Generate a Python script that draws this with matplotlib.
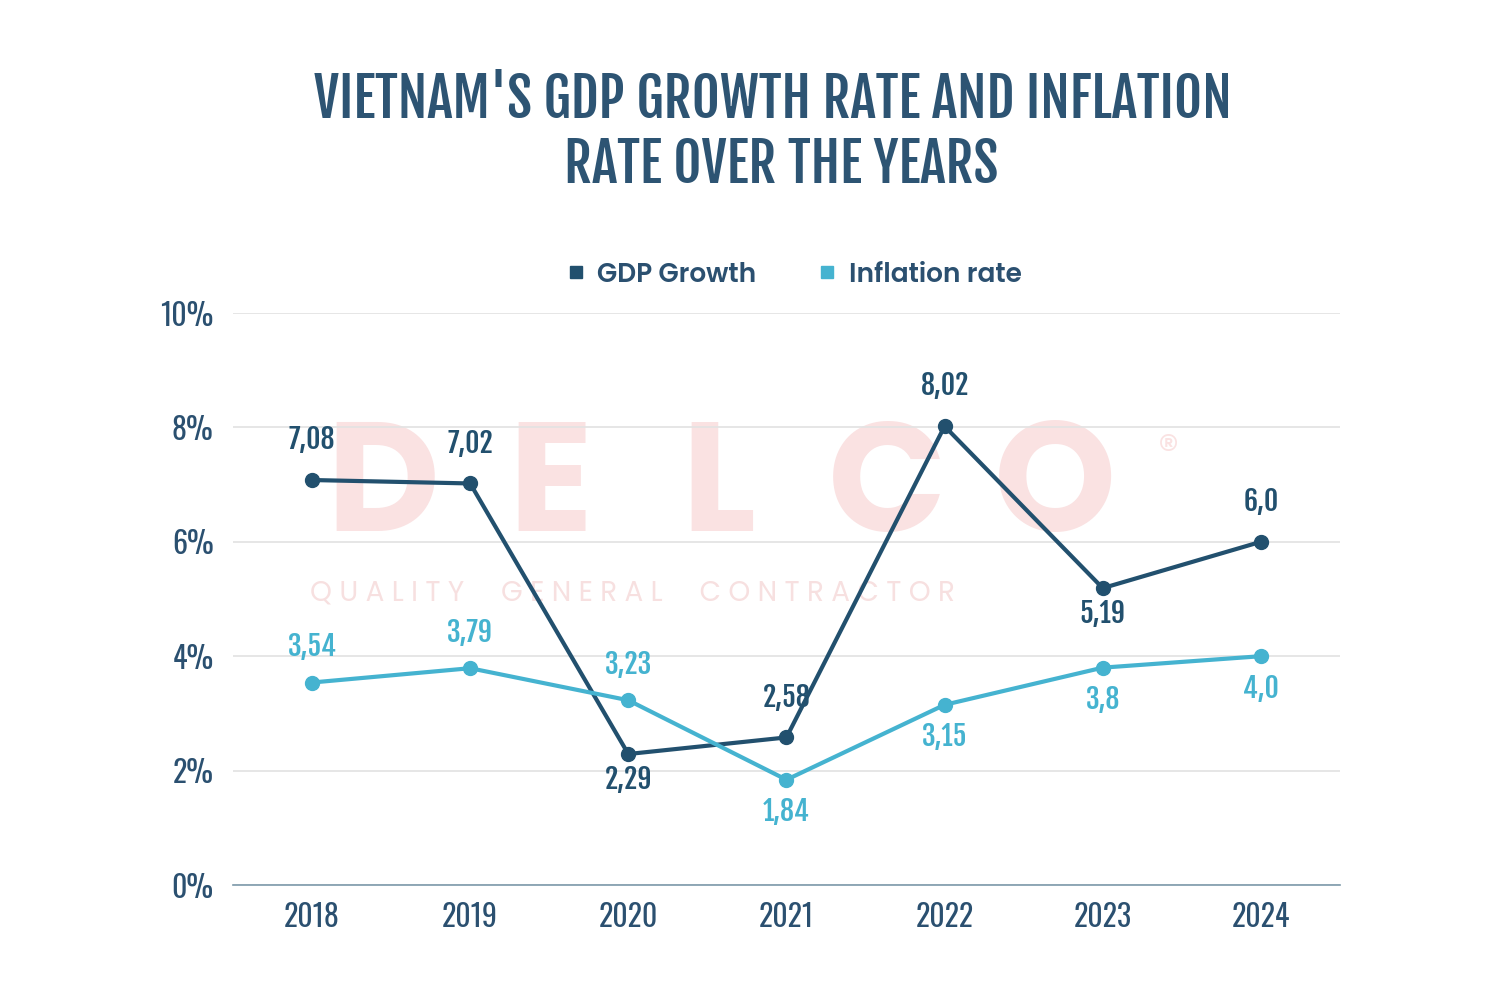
import matplotlib
matplotlib.use("Agg")
import matplotlib.pyplot as plt
from matplotlib.lines import Line2D

# data
years = ["2018", "2019", "2020", "2021", "2022", "2023", "2024"]
gdp = [7.08, 7.02, 2.29, 2.58, 8.02, 5.19, 6.0]
gdp_txt = ["7,08", "7,02", "2,29", "2,58", "8,02", "5,19", "6,0"]
gdp_pos = ["up", "up", "down", "up", "up", "down", "up"]
infl = [3.54, 3.79, 3.23, 1.84, 3.15, 3.8, 4.0]
infl_txt = ["3,54", "3,79", "3,23", "1,84", "3,15", "3,8", "4,0"]
infl_pos = ["up", "up", "up", "down", "down", "down", "down"]
yticks = [0, 2, 4, 6, 8, 10]

dark = "#22506e"
light = "#45b3d0"
txtc = "#2b5070"
osw = ["Oswald", "DejaVu Sans"]
fja = ["Fjalla One", "DejaVu Sans"]
pop = ["Poppins", "DejaVu Sans"]

fig = plt.figure(figsize=(15, 10), dpi=100)
ax = fig.add_axes([0.1553, 0.115, 0.738, 0.572])

# faint DELCO watermark behind the lines
for i, ch in enumerate("DELCO"):
    ax.text(0.135 + i * 0.152, 0.683, ch, transform=ax.transAxes, ha="center",
            va="center", fontsize=112, fontweight="bold", color="#fae2e2",
            family=pop, zorder=0)
ax.text(0.845, 0.755, "®", transform=ax.transAxes, ha="center", va="center",
        fontsize=30, color="#fae2e2", family=pop, zorder=0)
ax.text(0.07, 0.51, "Q U A L I T Y     G E N E R A L     C O N T R A C T O R",
        transform=ax.transAxes, ha="left", va="center", fontsize=20,
        color="#f7e0e0", family=pop, zorder=0)

x = list(range(len(years)))
ax.plot(x, gdp, color=dark, lw=3, marker="o", ms=10, zorder=3)
ax.plot(x, infl, color=light, lw=3, marker="o", ms=10, zorder=3)

for i in x:
    off = 29 if gdp_pos[i] == "up" else -18
    ax.annotate(gdp_txt[i], (i, gdp[i]), xytext=(0, off), textcoords="offset points",
                ha="center", va="center", fontsize=20,
                color=dark, family=fja, zorder=4)
    off = 26 if infl_pos[i] == "up" else -23
    ax.annotate(infl_txt[i], (i, infl[i]), xytext=(0, off), textcoords="offset points",
                ha="center", va="center", fontsize=20,
                color=light, family=fja, zorder=4)

ax.set_xlim(-0.5, 6.5)
ax.set_ylim(0, 10)
ax.set_xticks(x)
ax.set_xticklabels(years)
ax.set_yticks(yticks)
ax.set_yticklabels([f"{v}%" for v in yticks])
for lab in ax.get_xticklabels() + ax.get_yticklabels():
    lab.set_family(osw)
    lab.set_fontsize(21.5)
    lab.set_color(txtc)
ax.tick_params(length=0, pad=12)
ax.tick_params(axis="y", pad=14)
ax.grid(axis="y", color="#e2e2e2", lw=1.2)
ax.set_axisbelow(True)
for s in ["top", "right", "left"]:
    ax.spines[s].set_visible(False)
ax.spines["bottom"].set_color("#7d9aaa")
ax.spines["bottom"].set_linewidth(1.2)

fig.text(0.515, 0.9, "VIETNAM'S GDP GROWTH RATE AND INFLATION", ha="center",
         va="center", fontsize=39, color="#2d5473", family=fja)
fig.text(0.521, 0.835, "RATE OVER THE YEARS", ha="center",
         va="center", fontsize=39, color="#2d5473", family=fja)

handles = [Line2D([], [], ls="", marker="s", ms=8, color=dark),
           Line2D([], [], ls="", marker="s", ms=8, color=light)]
fig.legend(handles, ["GDP Growth", "Inflation rate"], loc="center",
           bbox_to_anchor=(0.528, 0.725), ncol=2, frameon=False,
           handletextpad=0.3, columnspacing=2.2, handlelength=1.0,
           prop={"family": pop, "weight": 600, "size": 19})
for t in fig.legends[0].get_texts():
    t.set_color(txtc)

fig.savefig("out.png", dpi=100, facecolor="white")
